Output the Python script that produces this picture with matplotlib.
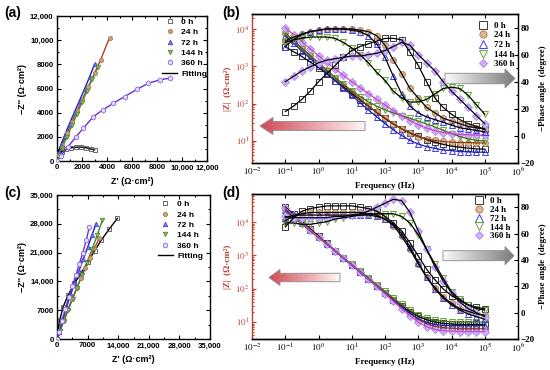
import numpy as np
import matplotlib
matplotlib.use('Agg')
import matplotlib.pyplot as plt
from matplotlib.ticker import FixedLocator, LogLocator, NullFormatter, MultipleLocator
from matplotlib.patches import Polygon
from matplotlib.colors import LinearSegmentedColormap

plt.rcParams['mathtext.fontset'] = 'stix'

# ---------------- data ----------------
labels = ['0 h', '24 h', '72 h', '144 h', '360 h']

# (a) Nyquist
a_re_0h = [150, 370, 700, 1100, 1500, 1900, 2300, 2700, 3000]
a_im_0h = [450, 770, 960, 1080, 1140, 1150, 1100, 1000, 910]
a_re_24h = [100, 400, 800, 1200, 1600, 2000, 2500, 3000, 3500, 4200]
a_im_24h = [560, 1300, 2300, 3250, 4150, 5050, 6150, 7250, 8400, 10200]
a_re_72h = [50, 300, 600, 1000, 1400, 1800, 2200, 2600, 3000]
a_im_72h = [600, 1300, 2100, 3100, 4050, 5000, 5950, 6950, 8000]
a_re_144h = [100, 400, 800, 1200, 1600, 2000, 2400, 2800, 3300]
a_im_144h = [400, 1100, 2000, 2950, 3900, 4850, 5800, 6750, 7800]
a_re_360h = [0, 300, 900, 1500, 2100, 2900, 3700, 4500, 5400, 6400, 7300, 8200, 9000]
a_im_360h = [0, 450, 1190, 1990, 2700, 3670, 4250, 4780, 5330, 5930, 6430, 6710, 6850]

# (c) Nyquist
c_re_0h = [100, 600, 1400, 2600, 4000, 5500, 7000, 8600, 10100, 12000, 13800]
c_im_0h = [1500, 4500, 7800, 10800, 13500, 16000, 18600, 21400, 24000, 26800, 29300]
c_re_24h = [0, 500, 1500, 2500, 3500, 4500, 5500, 6500, 7500, 8500, 9700]
c_im_24h = [0, 1600, 4500, 7200, 9800, 12300, 14800, 17200, 19600, 22000, 24500]
c_re_72h = [0, 500, 1300, 2200, 3100, 4000, 5000, 6000, 7000, 8000, 8900]
c_im_72h = [0, 1800, 4700, 7800, 10700, 13500, 16500, 19400, 22300, 25200, 28000]
c_re_144h = [0, 700, 1600, 2600, 3600, 4600, 5700, 6800, 8000, 9200, 10400]
c_im_144h = [0, 1900, 4400, 7100, 9800, 12500, 15500, 18500, 21800, 25200, 29000]
c_re_360h = [0, 400, 1100, 1900, 2700, 3500, 4300, 5100, 5900, 6700, 7400]
c_im_360h = [0, 1700, 4400, 7300, 10100, 12800, 15500, 18200, 21000, 24000, 27300]

# Bode frequency (Hz)
freq = [0.1, 0.178, 0.316, 0.562, 1, 1.78, 3.16, 5.62, 10, 17.8, 31.6, 56.2,
        100, 178, 316, 562, 1000, 1780, 3160, 5620, 10000, 17800, 31600, 56200, 100000]

# (b) |Z| (Ohm cm2)
b_z_0h = [3390, 2510, 1860, 1320, 933, 631, 417, 282, 186, 126, 85, 57.5, 39.8,
          28.2, 20.9, 16.2, 13.2, 10.7, 9.1, 7.9, 7.1, 6.6, 6.3, 6.0, 5.9]
b_z_24h = [7940, 5010, 3160, 2000, 1260, 794, 501, 316, 204, 132, 87, 58.9, 40.7,
           28.8, 20.9, 15.8, 12.9, 11.2, 10.2, 9.5, 9.1, 8.9, 8.9, 8.7, 8.7]
b_z_72h = [6610, 4170, 2630, 1660, 1050, 661, 417, 263, 166, 105, 67.6, 43.7, 28.8,
           19.5, 13.8, 10.2, 8.1, 6.9, 6.2, 5.6, 5.4, 5.1, 5.0, 4.9, 4.9]
b_z_144h = [7590, 4790, 3020, 1910, 1200, 776, 501, 331, 224, 155, 112, 85.1, 67.6,
            56.2, 46.8, 39.8, 33.9, 28.2, 23.4, 19.1, 15.5, 12.9, 11.2, 10.2, 9.8]
b_z_360h = [11200, 7240, 4680, 3020, 1950, 1290, 851, 575, 389, 269, 186, 129, 91.2,
            64.6, 46.8, 34.7, 26.9, 21.9, 18.6, 16.6, 15.5, 14.8, 14.5, 14.1, 14.1]

# (b) -phase (degree)
b_p_0h = [18, 22, 27, 33, 40, 46, 52, 58, 63, 66, 68, 70, 72, 72, 71, 62, 52, 40,
          28, 21, 16, 12, 9, 7, 5]
b_p_24h = [70, 73, 75, 77, 78, 79, 79, 79, 79, 78, 77, 74, 67, 56, 46, 35, 28, 21,
           17, 13, 11, 9, 7, 6, 5]
b_p_72h = [66, 71, 75, 77, 78, 79, 79, 79, 78, 77, 74, 68, 58, 44, 31, 22, 17, 14,
           12, 10, 8, 6, 5, 4, 3]
b_p_144h = [69, 71, 72, 73, 73, 73, 72, 69, 65, 60, 54, 47, 41, 33, 28, 25, 25, 27,
            31, 35, 36, 35, 30, 23, 16]
b_p_360h = [40, 44, 48, 51, 54, 56, 57, 58, 59, 59, 60, 61, 63, 66, 69, 67, 60, 54,
            48, 40, 33, 27, 21, 15, 9]

# (d) |Z| (Ohm cm2)
d_z_0h = [28200, 17400, 10500, 6310, 3800, 2290, 1380, 832, 513, 316, 195, 120, 74.1,
          46.8, 30.2, 20.4, 14.8, 11.7, 10.0, 9.1, 8.7, 8.5, 8.5, 8.5, 8.5]
d_z_24h = [25100, 15500, 9550, 5890, 3630, 2240, 1380, 851, 525, 324, 200, 123, 75.9,
           46.8, 28.8, 18.2, 12.0, 8.9, 7.4, 6.8, 6.5, 6.3, 6.3, 6.3, 6.3]
d_z_72h = [22900, 14500, 9120, 5620, 3470, 2140, 1320, 813, 501, 309, 191, 117, 72.4,
           44.7, 28.2, 18.2, 12.6, 9.8, 8.5, 7.9, 7.8, 7.8, 7.8, 7.8, 7.8]
d_z_144h = [20900, 13200, 8510, 5370, 3390, 2140, 1350, 851, 537, 339, 214, 132, 83.2,
            52.5, 33.9, 22.9, 16.2, 12.9, 11.2, 10.5, 10.2, 10.0, 10.0, 10.0, 10.0]
d_z_360h = [26300, 15800, 9550, 5750, 3550, 2190, 1350, 832, 513, 316, 195, 117, 70.8,
            41.7, 25.1, 15.5, 10.0, 7.2, 6.0, 5.5, 5.4, 5.2, 5.2, 5.2, 5.2]

# (d) -phase (degree)
d_p_0h = [65, 72, 77, 79, 80, 81, 81, 81, 81, 80, 79, 77, 73, 68, 62, 53, 43, 33,
          25, 18, 13, 9, 6, 4, 3]
d_p_24h = [70, 73, 75, 76, 76, 76, 76, 76, 76, 76, 75, 74, 71, 66, 58, 48, 37, 27,
           19, 12, 7, 3, 1, -1, -2]
d_p_72h = [72, 74, 74, 74, 74, 74, 74, 74, 74, 74, 74, 73, 71, 67, 60, 50, 38, 27,
           18, 11, 6, 2, -1, -3, -5]
d_p_144h = [68, 68, 67, 67, 68, 69, 71, 72, 73, 74, 75, 75, 75, 75, 73, 68, 59, 48,
            37, 26, 16, 10, 6, 3, 2]
d_p_360h = [73, 72, 72, 72, 72, 72, 73, 73, 74, 75, 77, 80, 83, 86, 85, 76, 62, 48,
            35, 24, 15, 8, 3, 0, -3]

# ---------------- styling ----------------
W, H = 550, 370
SANS = 'Liberation Sans'
SERIF = 'Liberation Serif'
ZRED = '#c0402e'

fig = plt.figure(figsize=(5.5, 3.7), dpi=100)


def rect(l, t, r, b):
    return [l / W, 1 - b / H, (r - l) / W, (b - t) / H]


nyq_styles = [
    dict(marker='s', mfc='none', mec='#505050', ms=3, mew=0.6),
    dict(marker='o', mfc='#c8a07a', mec='#a87c58', ms=3, mew=0.6),
    dict(marker='^', mfc='#8080f0', mec='#4040d0', ms=3.2, mew=0.6),
    dict(marker='v', mfc='#90b860', mec='#5a8a30', ms=3.2, mew=0.6),
    dict(marker='h', mfc='#e6dafb', mec='#8a68e0', ms=3.6, mew=0.6),
]
nyq_fit = ['#000000', '#b04020', '#1a1ad0', '#3a8a2a', '#6a30d0']

bode_styles = [
    dict(marker='s', mfc='none', mec='#3a3a3a', ms=4.3, mew=0.7),
    dict(marker='o', mfc='#dcb896', mec='#b4825a', ms=4.3, mew=0.7),
    dict(marker='^', mfc='none', mec='#3c3cf0', ms=4.5, mew=0.7),
    dict(marker='v', mfc='none', mec='#62a82e', ms=4.5, mew=0.7),
    dict(marker='D', mfc='#cdb0f8', mec='#b090f0', ms=3.8, mew=0.7),
]
zfit = ['#000000', '#8b3a1a', '#2020b0', '#4a6a1a', '#d040c8']


def thousands(v):
    v = int(v)
    return f"{v:,}" if v >= 10000 else f"{v}"


def nyquist(rect_, data, lim, step, leg_anchor):
    ax = fig.add_axes(rect_)
    for (re, im), st, fc in zip(data, nyq_styles, nyq_fit):
        ax.plot(re, im, color=fc, lw=1.0, zorder=2)
        ax.plot(re, im, ls='none', zorder=3, **st)
    ax.set_xlim(0, lim)
    ax.set_ylim(0, lim)
    ticks = np.arange(0, lim + 1, step)
    ax.set_xticks(ticks)
    ax.set_yticks(ticks)
    ax.set_xticklabels([thousands(t) for t in ticks], family=SANS, weight='bold', size=5.6)
    ax.set_yticklabels([thousands(t) for t in ticks], family=SANS, weight='bold', size=5.6)
    ax.xaxis.set_minor_locator(MultipleLocator(step / 2))
    ax.yaxis.set_minor_locator(MultipleLocator(step / 2))
    ax.tick_params(which='both', direction='in', top=True, right=True, width=0.8)
    ax.tick_params(which='major', length=3, pad=2.5)
    ax.tick_params(which='minor', length=1.6)
    for s in ax.spines.values():
        s.set_linewidth(1.0)
    ax.set_xlabel("Z' (Ω·cm²)", family=SANS, weight='bold', size=6.5, labelpad=4)
    ax.set_ylabel("\u2212Z'' (Ω·cm²)", family=SANS, weight='bold', size=6.5, labelpad=2)
    handles = [plt.Line2D([], [], ls='none', **st) for st in nyq_styles]
    handles.append(plt.Line2D([], [], color='k', lw=1.0))
    ax.legend(handles, labels + ['Fitting'], loc='upper left', bbox_to_anchor=leg_anchor,
              frameon=False, prop=dict(family=SANS, weight='bold', size=6),
              handlelength=1.8, handletextpad=0.5, labelspacing=0.3, borderpad=0,
              borderaxespad=0)
    return ax


def bode(rect_, zs, ps, zlim, leg_anchor, xlabel_pad, lspace):
    ax = fig.add_axes(rect_)
    ax2 = ax.twinx()
    for z, st, zc in zip(zs, bode_styles, zfit):
        ax.plot(freq, z, ls='none', zorder=2, **st)
        ax.plot(freq, z, color=zc, lw=0.9, zorder=3)
    for p, st in zip(ps, bode_styles):
        ax2.plot(freq, p, ls='none', zorder=2, **st)
        ax2.plot(freq, p, color='k', lw=0.9, zorder=3)
    ax.set_xscale('log')
    ax.set_yscale('log')
    ax.set_xlim(1e-2, 1e6)
    ax.set_ylim(*zlim)
    ax2.set_ylim(-20, 90)
    xt = [10.0 ** k for k in range(-2, 7)]
    ax.set_xticks(xt)
    ax.set_xticklabels([rf'$10^{{{k}}}$' for k in range(-2, 7)], size=6.5)
    ax.xaxis.set_minor_locator(LogLocator(base=10, subs=np.arange(2, 10)))
    ax.xaxis.set_minor_formatter(NullFormatter())
    yt = [10.0 ** k for k in range(1, 5)]
    ax.set_yticks(yt)
    ax.set_yticklabels([rf'$10^{{{k}}}$' for k in range(1, 5)], size=6.5, color=ZRED)
    ax.yaxis.set_minor_locator(LogLocator(base=10, subs=np.arange(2, 10)))
    ax.yaxis.set_minor_formatter(NullFormatter())
    pt = [-20, 0, 20, 40, 60, 80]
    ax2.set_yticks(pt)
    ax2.set_yticklabels([str(v).replace('-', '\u2212') for v in pt], family=SERIF,
                        weight='bold', size=6.5)
    ax2.yaxis.set_minor_locator(MultipleLocator(10))
    ax.tick_params(which='both', direction='in', top=True, width=0.8, pad=2)
    ax.tick_params(which='major', length=3)
    ax.tick_params(which='minor', length=1.6)
    ax.tick_params(axis='y', which='both', colors=ZRED)
    ax2.tick_params(which='both', direction='in', width=0.8, pad=2)
    ax2.tick_params(which='major', length=3)
    ax2.tick_params(which='minor', length=1.6)
    ax.spines['right'].set_visible(False)
    ax2.spines['left'].set_visible(False)
    ax.spines['left'].set_color(ZRED)
    for s in list(ax.spines.values()) + list(ax2.spines.values()):
        s.set_linewidth(1.0)
    ax.set_xlabel('Frequency (Hz)', family=SERIF, weight='bold', size=6.5, labelpad=xlabel_pad)
    ax.set_ylabel('|Z|  (Ω·cm²)', family=SERIF, weight='bold', size=6.5, color=ZRED, labelpad=2)
    ax2.set_ylabel('\u2212Phase angle  (degree)', family=SERIF, weight='bold', size=6.5, labelpad=3)
    handles = [plt.Line2D([], [], ls='none', **dict(st, ms=st['ms'] * 1.2)) for st in bode_styles]
    ax2.legend(handles, labels, loc='upper left', bbox_to_anchor=leg_anchor, frameon=False,
               prop=dict(family=SERIF, weight='bold', size=6.5), handlelength=1.0,
               handletextpad=0.8, labelspacing=lspace, borderpad=0, borderaxespad=0)
    return ax, ax2


# panels
nyquist(rect(57, 16, 207, 161),
        [(a_re_0h, a_im_0h), (a_re_24h, a_im_24h), (a_re_72h, a_im_72h),
         (a_re_144h, a_im_144h), (a_re_360h, a_im_360h)],
        12000, 2000, (0.70, 0.985))
nyquist(rect(57, 195, 210, 339),
        [(c_re_0h, c_im_0h), (c_re_24h, c_im_24h), (c_re_72h, c_im_72h),
         (c_re_144h, c_im_144h), (c_re_360h, c_im_360h)],
        35000, 7000, (0.66, 0.962))
bode(rect(252, 14, 518, 163),
     [b_z_0h, b_z_24h, b_z_72h, b_z_144h, b_z_360h],
     [b_p_0h, b_p_24h, b_p_72h, b_p_144h, b_p_360h],
     (2.5, 26000), (0.85, 0.95), 3, 0.15)
bode(rect(252, 194, 518, 339),
     [d_z_0h, d_z_24h, d_z_72h, d_z_144h, d_z_360h],
     [d_p_0h, d_p_24h, d_p_72h, d_p_144h, d_p_360h],
     (3.1, 69000), (0.835, 0.98), 3, 0.05)

# overlay for arrows and panel letters
ov = fig.add_axes([0, 0, 1, 1])
ov.axis('off')
ov.patch.set_visible(False)
ov.set_zorder(10)


def grad_arrow(x_tail, x_tip, yc, bh, hh, hl, c_tail, c_tip):
    d = 1 if x_tip > x_tail else -1
    xb = x_tip - d * hl
    verts = [(x_tail, yc - bh / 2), (xb, yc - bh / 2), (xb, yc - hh / 2), (x_tip, yc),
             (xb, yc + hh / 2), (xb, yc + bh / 2), (x_tail, yc + bh / 2)]
    poly = Polygon(verts, closed=True, fc='none', ec='#8a8a8a', lw=0.6, zorder=3)
    ov.add_patch(poly)
    cmap = LinearSegmentedColormap.from_list('g', [c_tail, c_tip])
    grad = np.linspace(0, 1, 256).reshape(1, -1)
    if d < 0:
        grad = grad[:, ::-1]
    im = ov.imshow(grad, cmap=cmap, extent=[min(x_tail, x_tip), max(x_tail, x_tip),
                                            yc + hh / 2, yc - hh / 2],
                   aspect='auto', zorder=2, interpolation='bilinear')
    im.set_clip_path(poly)


grad_arrow(365, 260, 126, 9, 17, 13, '#fff6f6', '#cf4a55')
grad_arrow(445, 515, 78.5, 10.5, 19, 10, '#fafafa', '#7c7c7c')
grad_arrow(340, 269, 277.5, 8.5, 16, 11, '#fff6f6', '#cf4a55')
grad_arrow(443, 514, 255.7, 10, 18, 9, '#fafafa', '#7c7c7c')

for x, y, t in [(4, 13, '(a)'), (222, 13, '(b)'), (4, 193, '(c)'), (222, 193, '(d)')]:
    ov.text(x, y, t, family=SANS, weight='bold', size=10, va='center', ha='left')

ov.set_xlim(0, W)
ov.set_ylim(H, 0)

fig.savefig('out.png', dpi=100)
